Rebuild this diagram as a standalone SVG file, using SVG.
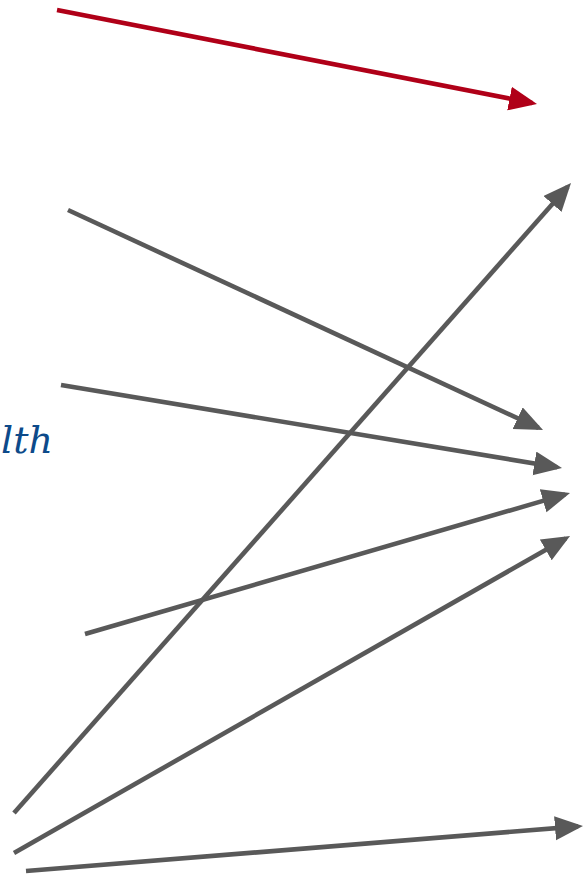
<svg xmlns="http://www.w3.org/2000/svg" width="583" height="879" viewBox="0 0 583 879">
<style>
.g{stroke:#595959;stroke-width:4.6;fill:none;marker-end:url(#ag)}
.r{stroke:#b00018;stroke-width:4.6;fill:none;marker-end:url(#ar)}
.t{font-family:"DejaVu Serif","Liberation Serif",serif;font-style:italic;font-size:38px;fill:#0d4a8a}
</style>
<defs>
<marker id="ag" markerUnits="userSpaceOnUse" markerWidth="30" markerHeight="26" refX="23" refY="12" orient="auto"><path d="M0,0 L28,12 L0,24 z" fill="#595959"/></marker>
<marker id="ar" markerUnits="userSpaceOnUse" markerWidth="30" markerHeight="26" refX="23" refY="12" orient="auto"><path d="M0,0 L28,12 L0,24 z" fill="#b00018"/></marker>
</defs>
<rect width="583" height="879" fill="#fff"/>
<g id="label"><text class="t" x="1" y="453">lth</text></g>
<g id="connectors">
<line class="r" x1="57" y1="10" x2="532.1" y2="103"/>
<line class="g" x1="68" y1="210" x2="538.5" y2="427.9"/>
<line class="g" x1="61" y1="385" x2="557.1" y2="467.2"/>
<line class="g" x1="85" y1="634" x2="565.2" y2="494.4"/>
<line class="g" x1="14" y1="813" x2="567.7" y2="186.7"/>
<line class="g" x1="14" y1="853" x2="565.7" y2="538.5"/>
<line class="g" x1="26" y1="871" x2="578" y2="826.4"/>
</g>
</svg>
